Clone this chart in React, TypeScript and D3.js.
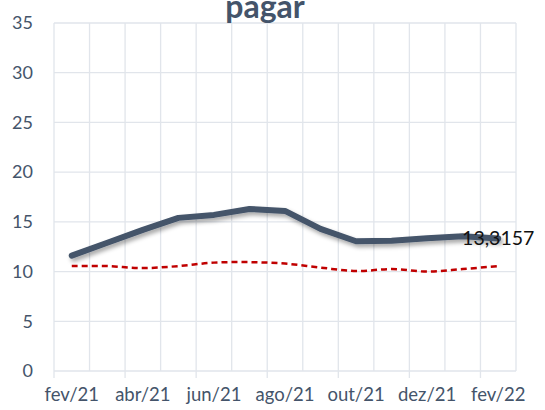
import React from "react";
import * as d3 from "d3";

// months on the category axis
const months = [
  "fev/21", "mar/21", "abr/21", "mai/21", "jun/21", "jul/21", "ago/21",
  "set/21", "out/21", "nov/21", "dez/21", "jan/22", "fev/22",
];
// solid series (prazo)
const prazo = [11.6, 12.9, 14.2, 15.4, 15.7, 16.3, 16.1, 14.3, 13.05, 13.1, 13.35, 13.55, 13.3157];
// dashed series (referência)
const referencia = [10.55, 10.55, 10.35, 10.55, 10.9, 10.95, 10.8, 10.4, 10.05, 10.25, 10.0, 10.25, 10.55];
const yTicks = [0, 5, 10, 15, 20, 25, 30, 35];
const lastLabel = "13,3157";

const W = 545, H = 410;
const left = 54, right = 516, top = 23, bottom = 371;

export default function App() {
  const x = d3.scaleBand<string>().domain(months).range([left, right]).padding(0);
  const y = d3.scaleLinear().domain([0, 35]).range([bottom, top]);
  const cx = (m: string) => (x(m) as number) + x.bandwidth() / 2;

  const solid = d3.line<number>()
    .x((_, i) => cx(months[i]))
    .y(d => y(d))(prazo) as string;
  const dashed = d3.line<number>()
    .x((_, i) => cx(months[i]))
    .y(d => y(d))
    .curve(d3.curveCatmullRom)(referencia) as string;

  const bounds = months.map(m => x(m) as number).concat([right]);
  const grid = "#E1E5EB";
  const text = "#44546A";
  const lastM = months[months.length - 1];

  return (
    <svg width={W} height={H} style={{ position: "absolute", left: 0, top: 0 }}
      fontFamily="Lato, 'Open Sans', sans-serif">
      <defs>
        <filter id="sh" x="-10%" y="-50%" width="120%" height="200%">
          <feDropShadow dx="2" dy="3" stdDeviation="2" floodColor="#000" floodOpacity="0.35" />
        </filter>
      </defs>
      <rect width={W} height={H} fill="#fff" />
      {yTicks.map(t => (
        <g key={t}>
          <line x1={left} x2={right} y1={y(t)} y2={y(t)} stroke={grid} strokeWidth={1.3} />
          <text x={33} y={y(t)} dy="0.35em" textAnchor="end" fontSize={18} fill={text}>{t}</text>
        </g>
      ))}
      {bounds.map((b, i) => (
        <line key={i} x1={b} x2={b} y1={top} y2={i % 2 === 0 && i < months.length ? bottom + 7 : bottom}
          stroke={grid} strokeWidth={1.3} />
      ))}
      {months.map((m, i) => i % 2 === 0 ? (
        <text key={m} x={cx(m)} y={401} textAnchor="middle" fontSize={18.5} fill={text}>{m}</text>
      ) : null)}
      <text x={265} y={18} textAnchor="middle" fontSize={32} fontWeight="bold" fill={text}>pagar</text>
      <path d={dashed} fill="none" stroke="#C00000" strokeWidth={2.5} strokeDasharray="6 4" />
      <path d={solid} fill="none" stroke="#44546A" strokeWidth={6} strokeLinejoin="round"
        strokeLinecap="round" filter="url(#sh)" />
      <text x={cx(lastM)} y={y(prazo[prazo.length - 1])} dy="0.35em" textAnchor="middle"
        fontSize={19.5} fill="#111">{lastLabel}</text>
    </svg>
  );
}
